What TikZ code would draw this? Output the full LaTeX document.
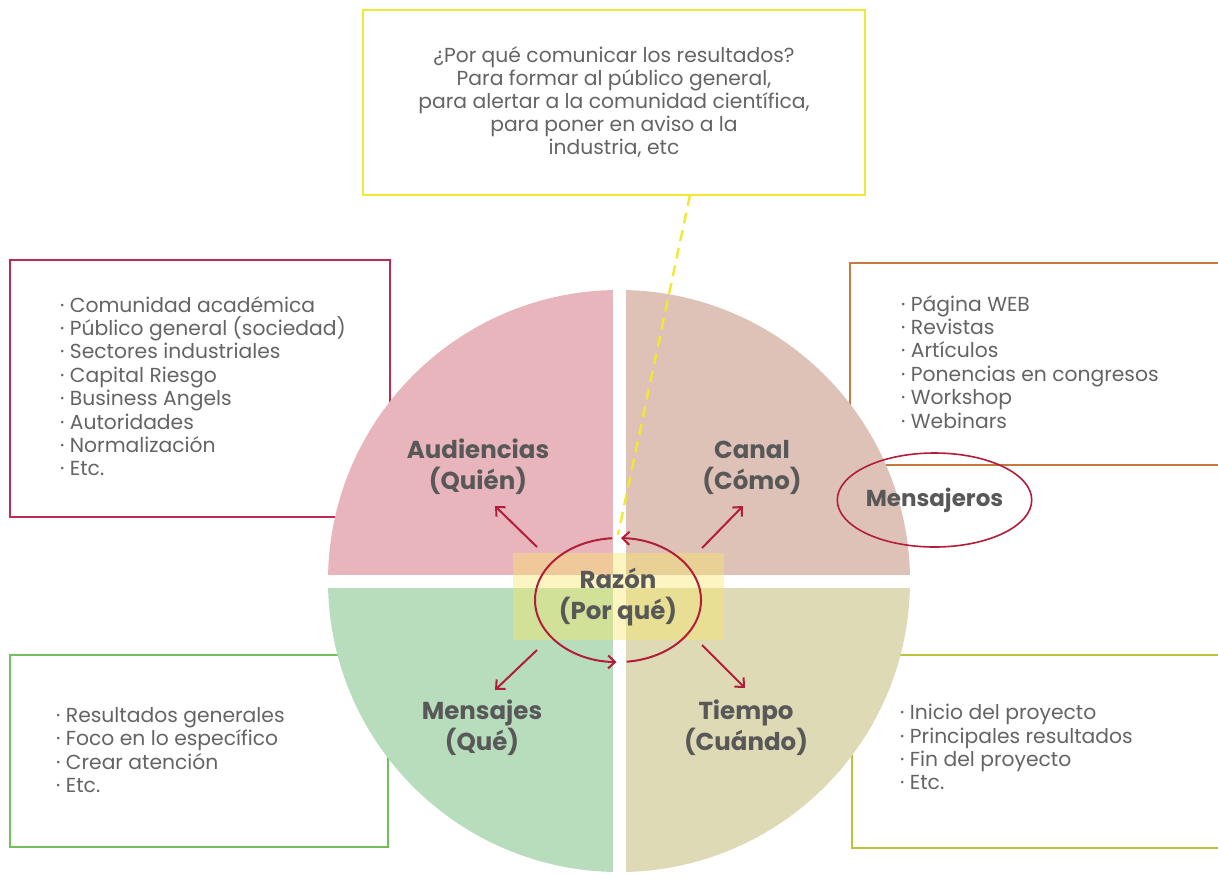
\documentclass[tikz,border=0pt]{standalone}
\usepackage{fontspec}
\setmainfont{Poppins}
\usepackage{tikz}
\usetikzlibrary{arrows.meta,shapes.geometric}
\definecolor{audfill}{RGB}{232,181,189}
\definecolor{canfill}{RGB}{222,193,183}
\definecolor{menfill}{RGB}{183,221,188}
\definecolor{tiefill}{RGB}{221,218,181}
\definecolor{audline}{RGB}{192,42,82}
\definecolor{canline}{RGB}{200,122,62}
\definecolor{menline}{RGB}{112,192,92}
\definecolor{tieline}{RGB}{186,196,58}
\definecolor{whyline}{RGB}{242,232,48}
\definecolor{glow}{RGB}{250,232,100}
\definecolor{crimson}{RGB}{178,30,58}
\definecolor{listgrey}{RGB}{100,100,100}
\definecolor{labelgrey}{RGB}{88,88,88}
\newcommand{\listfont}{\fontsize{20.3}{23.4}\selectfont}
\newcommand{\labelfont}{\fontsize{24.5}{31}\selectfont\bfseries}

\begin{document}
\begin{tikzpicture}[x=1pt,y=-1pt,
		box/.style={line width=2pt},
		itemlist/.style={anchor=north west,inner sep=0pt,align=left,
			text=listgrey,font=\listfont},
		quadlabel/.style={align=center,inner sep=0pt,text=labelgrey,
			font=\labelfont},
		spoke/.style={crimson,line width=2pt,
			-{Straight Barb[length=7pt,width=13pt]}},
		spin/.style={crimson,line width=2pt,
			-{Straight Barb[length=7pt,width=13pt]}}]
		\useasboundingbox[fill=white] (0,0) rectangle (1218,876);
		\clip (0,0) rectangle (1218,876);
		\draw [box,audline] (10,260) rectangle (390,517);
		\draw [box,canline] (850,263) rectangle (1240,465);
		\draw [box,menline] (10,655) rectangle (388,847);
		\draw [box,tieline] (852,655) rectangle (1240,848);
		\node (why) at (614,102.5)
			[box,draw=whyline,minimum width=502pt,minimum height=185pt,
			align=center,text=listgrey,font=\fontsize{20.3}{23}\selectfont]
			{¿Por qué comunicar los resultados?\\
			Para formar al público general,\\
			para alertar a la comunidad científica,\\
			para poner en aviso a la\\
			industria, etc};
		\fill [audfill] (619,581) -- (328,581)
			arc [start angle=180,end angle=270,radius=291] -- cycle;
		\fill [canfill] (619,581) -- (619,290)
			arc [start angle=270,end angle=360,radius=291] -- cycle;
		\fill [tiefill] (619,581) -- (910,581)
			arc [start angle=0,end angle=90,radius=291] -- cycle;
		\fill [menfill] (619,581) -- (619,872)
			arc [start angle=90,end angle=180,radius=291] -- cycle;
		\draw [white,line width=13pt] (619,280) -- (619,876);
		\draw [white,line width=13pt] (320,581) -- (918,581);
		\fill [glow,opacity=0.4] (513,553) rectangle (724,640);
		\node [itemlist] (audlist) at (60,296)
			{· Comunidad académica\\
			· Público general (sociedad)\\
			· Sectores industriales\\
			· Capital Riesgo\\
			· Business Angels\\
			· Autoridades\\
			· Normalización\\
			· Etc.};
		\node [itemlist] (canlist) at (901,295)
			{· Página WEB\\
			· Revistas\\
			· Artículos\\
			· Ponencias en congresos\\
			· Workshop\\
			· Webinars};
		\node [itemlist] (menlist) at (56,707)
			{· Resultados generales\\
			· Foco en lo específico\\
			· Crear atención\\
			· Etc.};
		\node [itemlist] (tielist) at (900,704)
			{· Inicio del proyecto\\
			· Principales resultados\\
			· Fin del proyecto\\
			· Etc.};
		\node [quadlabel] (aud) at (478,467) {Audiencias\\(Quién)};
		\node [quadlabel] (can) at (752,467) {Canal\\(Cómo)};
		\node [quadlabel] (men) at (482,728) {Mensajes\\(Qué)};
		\node [quadlabel] (tie) at (746,728) {Tiempo\\(Cuándo)};
		\node [quadlabel,ellipse,minimum width=166pt,minimum height=124pt]
			(razon) at (618,597) {Razón\\(Por qué)};
		\node [quadlabel,font=\fontsize{23}{28}\selectfont\bfseries,
			ellipse,draw=crimson,line width=1.6pt,
			minimum width=189pt,minimum height=94pt]
			(mensajeros) at (934.5,500) {Mensajeros};
		\coordinate (whyfoot) at (690,195);
		\draw [whyline,line width=2.4pt,dash pattern=on 11pt off 7pt]
			(whyfoot) -- (razon.north);
		\draw [spin] (626.7,661.7)
			arc [start angle=84,end angle=-88,x radius=83,y radius=62];
		\draw [spin] (612.2,538.2)
			arc [start angle=-94,end angle=-269,x radius=83,y radius=62];
		\coordinate (nwfrom) at (537,547);
		\coordinate (nefrom) at (702,548);
		\coordinate (swfrom) at (537,650);
		\coordinate (sefrom) at (702,645);
		\coordinate (nwto) at (495,506);
		\coordinate (neto) at (743,506);
		\coordinate (swto) at (495,690);
		\coordinate (seto) at (745,688);
		\draw [spoke] (nwfrom) -- (nwto);
		\draw [spoke] (nefrom) -- (neto);
		\draw [spoke] (swfrom) -- (swto);
		\draw [spoke] (sefrom) -- (seto);
\end{tikzpicture}
\end{document}
